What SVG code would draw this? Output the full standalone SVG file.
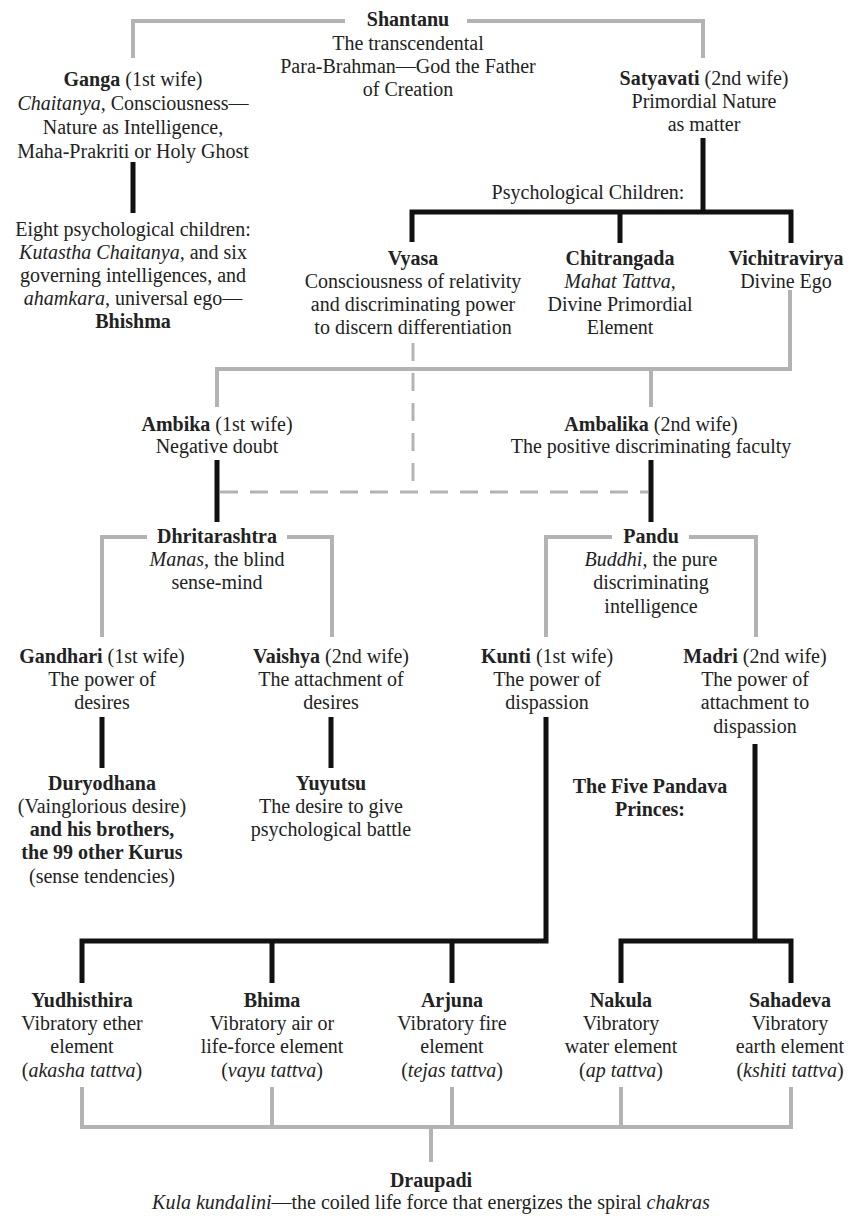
<svg xmlns="http://www.w3.org/2000/svg" width="849" height="1216" viewBox="0 0 849 1216" font-family="Liberation Serif, Times New Roman, DejaVu Serif, serif">
<style>
text{font-family:'Liberation Serif','Times New Roman','DejaVu Serif',serif;font-size:20px;fill:#222;text-anchor:middle}
.b{font-weight:bold}
.i{font-style:italic}
.g{fill:none;stroke:#b3b3b3;stroke-width:4}
.d{fill:none;stroke:#b3b3b3;stroke-width:3;stroke-dasharray:18 12}
.k{fill:none;stroke:#111;stroke-width:5}
</style>
<rect width="849" height="1216" fill="#fff"/>
<g id="connectors">
<path class="g" d="M133,58V21H345M467,21H703V58"/>
<path class="g" d="M790,290V369H217V407M651,369V407"/>
<path class="g" d="M147,537H102V637M287,537H332V637"/>
<path class="g" d="M612,537H546V637M689,537H756V637"/>
<path class="g" d="M82,1087V1127H791V1087M272,1087V1127M452,1087V1127M621,1087V1127M431,1127V1162"/>
<path class="d" d="M413,343V492M220,492H648"/>
<path class="k" d="M133,162V213"/>
<path class="k" d="M703,138V212M412,242V212H791V243M620,212V243"/>
<path class="k" d="M217,460V522M651,460V522"/>
<path class="k" d="M102,717V768M331,717V768"/>
<path class="k" d="M546,717V941H82V983M272,941V983M452,941V983"/>
<path class="k" d="M755,744V941M621,983V941H791V983"/>
</g>
<g id="shantanu">
<text x="408" y="26" class="b">Shantanu</text>
<text x="408" y="50">The transcendental</text>
<text x="408" y="73">Para-Brahman—God the Father</text>
<text x="408" y="96">of Creation</text>
</g>
<g id="ganga">
<text x="133" y="86"><tspan class="b">Ganga</tspan> (1st wife)</text>
<text x="133" y="110"><tspan class="i">Chaitanya,</tspan> Consciousness—</text>
<text x="133" y="134">Nature as Intelligence,</text>
<text x="133" y="158">Maha-Prakriti or Holy Ghost</text>
</g>
<g id="satyavati">
<text x="704" y="85"><tspan class="b">Satyavati</tspan> (2nd wife)</text>
<text x="704" y="108">Primordial Nature</text>
<text x="704" y="131">as matter</text>
</g>
<g id="bhishma">
<text x="133" y="236">Eight psychological children:</text>
<text x="133" y="259"><tspan class="i">Kutastha Chaitanya,</tspan> and six</text>
<text x="133" y="282">governing intelligences, and</text>
<text x="133" y="305"><tspan class="i">ahamkara,</tspan> universal ego—</text>
<text x="133" y="328" class="b">Bhishma</text>
</g>
<g id="psych-label">
<text x="588" y="199">Psychological Children:</text>
</g>
<g id="vyasa">
<text x="413" y="265" class="b">Vyasa</text>
<text x="413" y="288">Consciousness of relativity</text>
<text x="413" y="311">and discriminating power</text>
<text x="413" y="334">to discern differentiation</text>
</g>
<g id="chitrangada">
<text x="620" y="265" class="b">Chitrangada</text>
<text x="620" y="288" class="i">Mahat Tattva,</text>
<text x="620" y="311">Divine Primordial</text>
<text x="620" y="334">Element</text>
</g>
<g id="vichitravirya">
<text x="786" y="265" class="b">Vichitravirya</text>
<text x="786" y="288">Divine Ego</text>
</g>
<g id="ambika">
<text x="217" y="431"><tspan class="b">Ambika</tspan> (1st wife)</text>
<text x="217" y="453">Negative doubt</text>
</g>
<g id="ambalika">
<text x="651" y="431"><tspan class="b">Ambalika</tspan> (2nd wife)</text>
<text x="651" y="453">The positive discriminating faculty</text>
</g>
<g id="dhritarashtra">
<text x="217" y="543" class="b">Dhritarashtra</text>
<text x="217" y="566"><tspan class="i">Manas,</tspan> the blind</text>
<text x="217" y="589">sense-mind</text>
</g>
<g id="pandu">
<text x="651" y="543" class="b">Pandu</text>
<text x="651" y="566"><tspan class="i">Buddhi,</tspan> the pure</text>
<text x="651" y="589">discriminating</text>
<text x="651" y="613">intelligence</text>
</g>
<g id="gandhari">
<text x="102" y="663"><tspan class="b">Gandhari</tspan> (1st wife)</text>
<text x="102" y="686">The power of</text>
<text x="102" y="709">desires</text>
</g>
<g id="vaishya">
<text x="331" y="663"><tspan class="b">Vaishya</tspan> (2nd wife)</text>
<text x="331" y="686">The attachment of</text>
<text x="331" y="709">desires</text>
</g>
<g id="kunti">
<text x="547" y="663"><tspan class="b">Kunti</tspan> (1st wife)</text>
<text x="547" y="686">The power of</text>
<text x="547" y="709">dispassion</text>
</g>
<g id="madri">
<text x="755" y="663"><tspan class="b">Madri</tspan> (2nd wife)</text>
<text x="755" y="686">The power of</text>
<text x="755" y="709">attachment to</text>
<text x="755" y="733">dispassion</text>
</g>
<g id="duryodhana">
<text x="102" y="790" class="b">Duryodhana</text>
<text x="102" y="813">(Vainglorious desire)</text>
<text x="102" y="836" class="b">and his brothers,</text>
<text x="102" y="859" class="b">the 99 other Kurus</text>
<text x="102" y="883">(sense tendencies)</text>
</g>
<g id="yuyutsu">
<text x="331" y="790" class="b">Yuyutsu</text>
<text x="331" y="813">The desire to give</text>
<text x="331" y="836">psychological battle</text>
</g>
<g id="pandava-label">
<text x="650" y="793" class="b">The Five Pandava</text>
<text x="650" y="816" class="b">Princes:</text>
</g>
<g id="yudhisthira">
<text x="82" y="1007" class="b">Yudhisthira</text>
<text x="82" y="1030">Vibratory ether</text>
<text x="82" y="1053">element</text>
<text x="82" y="1077">(<tspan class="i">akasha tattva</tspan>)</text>
</g>
<g id="bhima">
<text x="272" y="1007" class="b">Bhima</text>
<text x="272" y="1030">Vibratory air or</text>
<text x="272" y="1053">life-force element</text>
<text x="272" y="1077">(<tspan class="i">vayu tattva</tspan>)</text>
</g>
<g id="arjuna">
<text x="452" y="1007" class="b">Arjuna</text>
<text x="452" y="1030">Vibratory fire</text>
<text x="452" y="1053">element</text>
<text x="452" y="1077">(<tspan class="i">tejas tattva</tspan>)</text>
</g>
<g id="nakula">
<text x="621" y="1007" class="b">Nakula</text>
<text x="621" y="1030">Vibratory</text>
<text x="621" y="1053">water element</text>
<text x="621" y="1077">(<tspan class="i">ap tattva</tspan>)</text>
</g>
<g id="sahadeva">
<text x="790" y="1007" class="b">Sahadeva</text>
<text x="790" y="1030">Vibratory</text>
<text x="790" y="1053">earth element</text>
<text x="790" y="1077">(<tspan class="i">kshiti tattva</tspan>)</text>
</g>
<g id="draupadi">
<text x="431" y="1187" class="b">Draupadi</text>
<text x="431" y="1209"><tspan class="i">Kula kundalini</tspan>—the coiled life force that energizes the spiral <tspan class="i">chakras</tspan></text>
</g>
</svg>
